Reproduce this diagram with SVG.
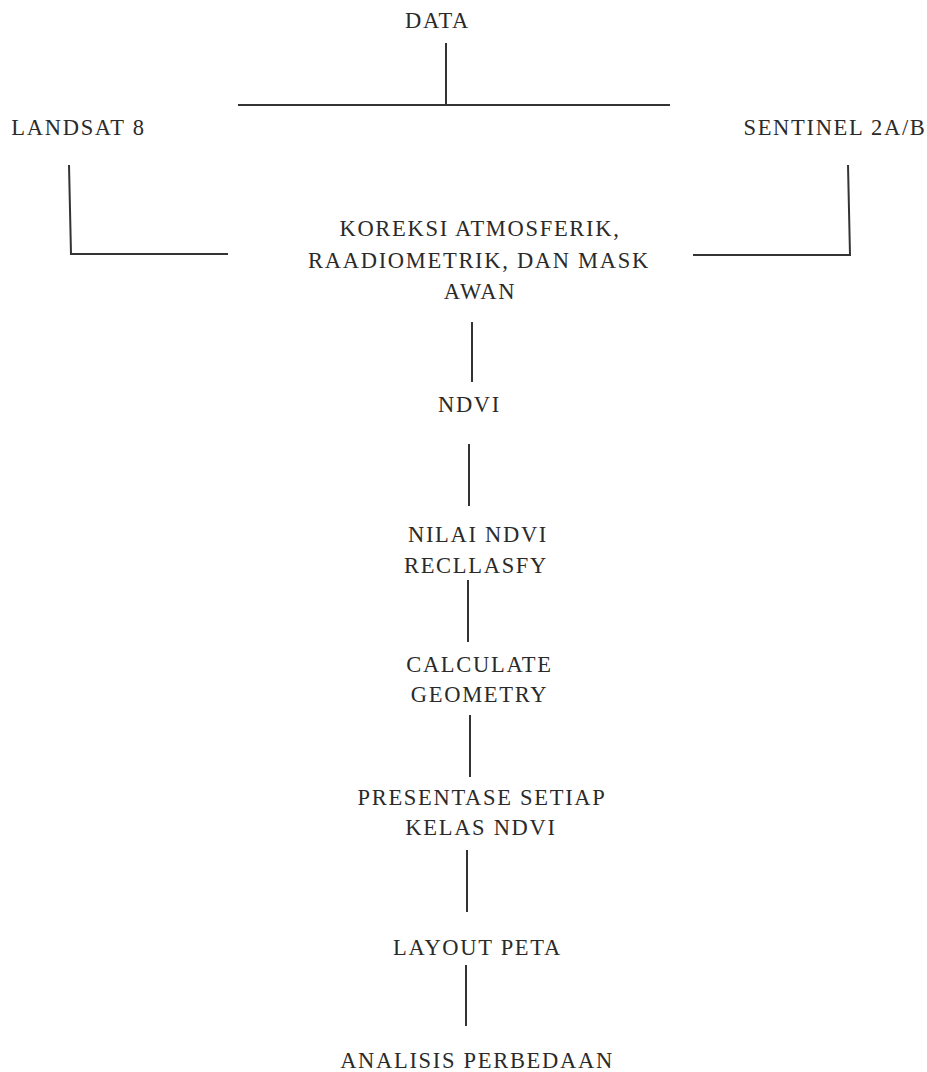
<svg xmlns="http://www.w3.org/2000/svg" width="927" height="1072" viewBox="0 0 927 1072">
<style>
text{font-family:'Liberation Serif','Times New Roman',serif;font-size:22.5px;letter-spacing:1.7px;fill:#2a2a2a;text-anchor:middle}
.c line,.c polyline{stroke:#333;stroke-width:2;fill:none}
</style>
<rect width="927" height="1072" fill="#fff"/>
<g class="c" id="connectors">
<line x1="446" y1="43" x2="446" y2="106"/>
<line x1="238" y1="105" x2="670" y2="105"/>
<polyline points="69,165 71,254 228,254"/>
<polyline points="848,165 850,255 693,255"/>
<line x1="472" y1="322" x2="472" y2="382"/>
<line x1="469" y1="444" x2="469" y2="506"/>
<line x1="468" y1="580" x2="468" y2="642"/>
<line x1="470" y1="715" x2="470" y2="777"/>
<line x1="467" y1="850" x2="467" y2="912"/>
<line x1="466" y1="965" x2="466" y2="1026"/>
</g>
<g id="data"><text x="437.5" y="28">DATA</text></g>
<g id="landsat"><text x="78.5" y="135">LANDSAT 8</text></g>
<g id="sentinel"><text x="835" y="135">SENTINEL 2A/B</text></g>
<g id="koreksi"><text x="480" y="236">KOREKSI ATMOSFERIK,</text><text x="479" y="268">RAADIOMETRIK, DAN MASK</text><text x="480" y="299">AWAN</text></g>
<g id="ndvi"><text x="469.5" y="412">NDVI</text></g>
<g id="nilai"><text x="478" y="542">NILAI NDVI</text><text x="476" y="573">RECLLASFY</text></g>
<g id="calc"><text x="479.5" y="672">CALCULATE</text><text x="479.5" y="702">GEOMETRY</text></g>
<g id="presentase"><text x="482" y="805">PRESENTASE SETIAP</text><text x="481" y="835">KELAS NDVI</text></g>
<g id="layout"><text x="477.5" y="955">LAYOUT PETA</text></g>
<g id="analisis"><text x="477" y="1068">ANALISIS PERBEDAAN</text></g>
</svg>
